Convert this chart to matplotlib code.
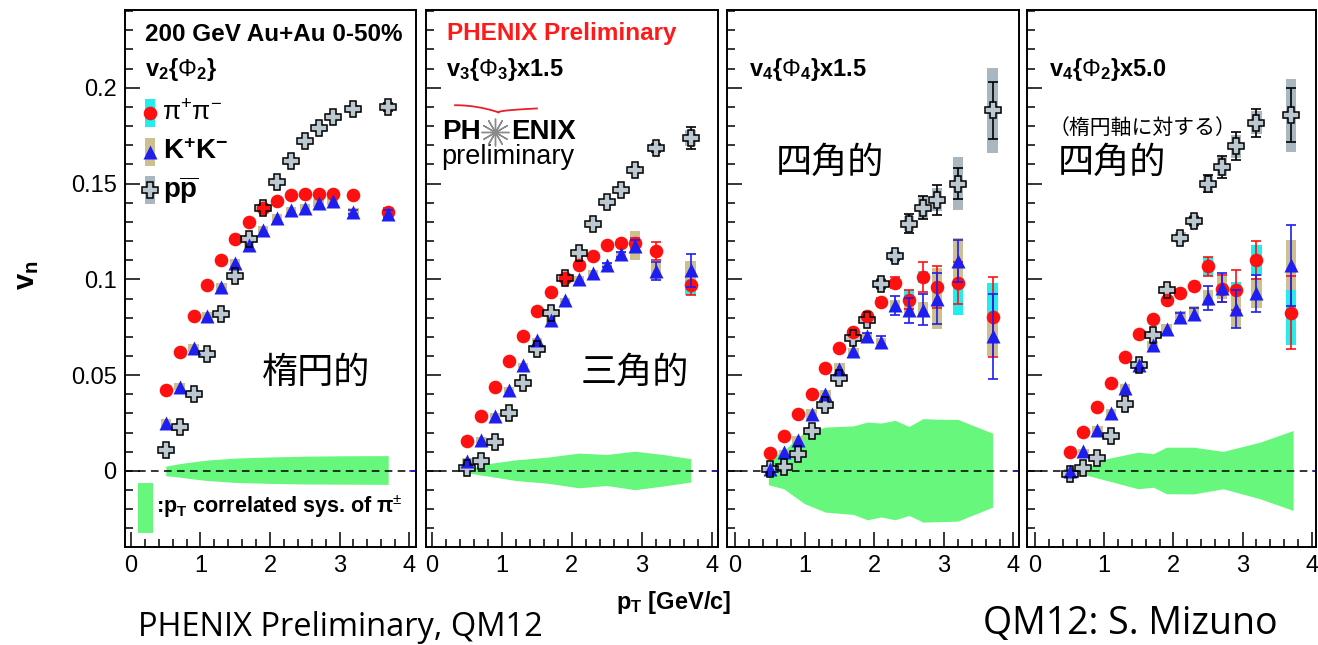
import numpy as np
import matplotlib
matplotlib.use("Agg")
import matplotlib.pyplot as plt
from matplotlib.ticker import MultipleLocator, FuncFormatter

plt.rcParams['font.family'] = ['Liberation Sans', 'DejaVu Sans']
plt.rcParams['mathtext.fontset'] = 'custom'
plt.rcParams['mathtext.rm'] = 'Liberation Sans'
plt.rcParams['mathtext.it'] = 'Liberation Sans:italic'
plt.rcParams['mathtext.bf'] = 'Liberation Sans:bold'

# ---------------- data ----------------
pt = [0.5, 0.7, 0.9, 1.1, 1.3, 1.5, 1.7, 1.9, 2.1, 2.3, 2.5, 2.7, 2.9, 3.2, 3.7]

# v2{Phi2}
v2_pi = [0.042, 0.062, 0.081, 0.097, 0.110, 0.121, 0.130, 0.137, 0.141, 0.144, 0.1445, 0.1445, 0.1445, 0.144, 0.135]
v2_k = [0.025, 0.044, 0.064, 0.081, 0.096, 0.1085, 0.118, 0.126, 0.132, 0.136, 0.1375, 0.140, 0.141, 0.135, 0.134]
v2_p = [0.011, 0.023, 0.040, 0.061, 0.082, 0.102, 0.121, 0.137, 0.151, 0.162, 0.172, 0.179, 0.185, 0.189, 0.190]
v2_pi_err = [0, 0, 0, 0, 0, 0, 0, 0, 0, 0, 0, 0, 0, 0.001, 0.002]
v2_k_err = [0, 0, 0, 0, 0, 0, 0, 0, 0, 0, 0, 0, 0, 0.001, 0.002]
v2_p_err = [0, 0, 0, 0, 0, 0, 0, 0, 0, 0, 0, 0, 0, 0.001, 0.002]
v2_pi_sys = [0.001] * 15
v2_k_sys = [0.002] * 15
v2_p_sys = [0.002] * 15
band2_x = [0.5, 0.7, 0.9, 1.1, 1.5, 2.0, 2.5, 3.0, 3.7]
band2_hi = [0.0025, 0.0038, 0.0048, 0.0057, 0.0067, 0.0073, 0.0077, 0.0079, 0.008]
band2_lo = [-0.0025, -0.0032, -0.0042, -0.005, -0.006, -0.0065, -0.0068, -0.0069, -0.007]

# v3{Phi3} x1.5
v3_pi = [0.0154, 0.0286, 0.0438, 0.0572, 0.0706, 0.0833, 0.0934, 0.1007, 0.1077, 0.1122, 0.118, 0.119, 0.119, 0.1148, 0.0969]
v3_k = [0.0051, 0.016, 0.0286, 0.0424, 0.0551, 0.0681, 0.0786, 0.089, 0.1003, 0.1035, 0.1073, 0.1130, 0.1175, 0.1043, 0.1047]
v3_p = [0.0015, 0.0051, 0.015, 0.030, 0.046, 0.0638, 0.0824, 0.1007, 0.1137, 0.129, 0.1404, 0.1465, 0.1573, 0.1686, 0.1738]
v3_pi_err = [0, 0, 0, 0, 0, 0, 0, 0, 0, 0, 0.001, 0.0015, 0.0026, 0.0045, 0.005]
v3_k_err = [0, 0, 0, 0, 0, 0, 0, 0, 0, 0, 0.001, 0.0015, 0.003, 0.0048, 0.0085]
v3_p_err = [0, 0, 0, 0, 0, 0, 0, 0, 0, 0, 0, 0.001, 0.0015, 0.002, 0.0057]
v3_pi_sys = [0.001] * 13 + [0.002, 0.005]
v3_k_sys = [0.0015] * 12 + [0.0076, 0.004, 0.005]
v3_p_sys = [0.0015] * 13 + [0.002, 0.004]
band3_x = [0.5, 0.8, 1.2, 1.65, 2.1, 2.5, 2.9, 3.3, 3.7]
band3_hi = [0.001, 0.0038, 0.0058, 0.0072, 0.0093, 0.0086, 0.0103, 0.0086, 0.0064]
band3_lo = [-0.001, -0.0027, -0.005, -0.0064, -0.0088, -0.0076, -0.0098, -0.0079, -0.0058]

# v4{Phi4} x1.5
v44_pi = [0.0095, 0.0182, 0.0299, 0.0403, 0.0537, 0.0641, 0.0725, 0.0808, 0.0881, 0.0983, 0.0894, 0.1012, 0.096, 0.0983, 0.0803]
v44_k = [0.001, 0.0098, 0.0163, 0.0295, 0.040, 0.0534, 0.0624, 0.0702, 0.0673, 0.0864, 0.0838, 0.0842, 0.090, 0.1096, 0.0702]
v44_p = [0.001, 0.0023, 0.0086, 0.0211, 0.0346, 0.0487, 0.0695, 0.079, 0.0977, 0.112, 0.129, 0.1374, 0.1416, 0.150, 0.1882]
v44_pi_err = [0, 0, 0, 0, 0, 0, 0, 0, 0.002, 0.003, 0.005, 0.0078, 0.011, 0.011, 0.021]
v44_k_err = [0, 0, 0, 0, 0, 0, 0, 0.002, 0.003, 0.005, 0.0067, 0.008, 0.0135, 0.011, 0.022]
v44_p_err = [0, 0, 0, 0, 0, 0, 0, 0, 0.002, 0.002, 0.0049, 0.0059, 0.0078, 0.008, 0.015]
v44_pi_sys = [0.001, 0.001, 0.001, 0.001, 0.001, 0.001, 0.001, 0.001, 0.002, 0.002, 0.005, 0.003, 0.004, 0.017, 0.018]
v44_k_sys = [0.001, 0.001, 0.002, 0.003, 0.002, 0.003, 0.002, 0.002, 0.002, 0.003, 0.003, 0.004, 0.016, 0.012, 0.01]
v44_p_sys = [0.001, 0.001, 0.001, 0.002, 0.002, 0.002, 0.002, 0.002, 0.003, 0.003, 0.004, 0.006, 0.006, 0.014, 0.022]
band44_x = [0.48, 0.7, 1.0, 1.3, 1.7, 1.9, 2.1, 2.3, 2.5, 2.7, 2.9, 3.2, 3.7]
band44_hi = [0.0064, 0.0107, 0.0203, 0.0229, 0.0235, 0.0255, 0.025, 0.0264, 0.0232, 0.0273, 0.027, 0.0269, 0.0197]
band44_lo = [-0.0072, -0.0093, -0.0171, -0.0215, -0.0227, -0.0255, -0.024, -0.0255, -0.0232, -0.0267, -0.0265, -0.0262, -0.0189]

# v4{Phi2} x5.0
v42_pi = [0.0098, 0.0203, 0.0333, 0.046, 0.0594, 0.0716, 0.0791, 0.0894, 0.093, 0.0963, 0.1068, 0.0951, 0.0946, 0.110, 0.0826]
v42_k = [0.0, 0.0102, 0.0215, 0.0302, 0.0434, 0.0551, 0.0659, 0.0739, 0.0803, 0.0821, 0.0902, 0.0957, 0.0847, 0.0928, 0.1073]
v42_p = [-0.0018, 0.0017, 0.0069, 0.0185, 0.0347, 0.0551, 0.0708, 0.0946, 0.1218, 0.1305, 0.150, 0.1587, 0.1695, 0.1817, 0.1857]
v42_pi_err = [0, 0, 0, 0, 0, 0, 0, 0, 0, 0.002, 0.005, 0.007, 0.0104, 0.010, 0.019]
v42_k_err = [0, 0, 0, 0, 0, 0, 0, 0, 0.002, 0.003, 0.0063, 0.0076, 0.010, 0.0096, 0.021]
v42_p_err = [0, 0, 0, 0, 0, 0, 0, 0, 0, 0.002, 0.0045, 0.0057, 0.0074, 0.0074, 0.014]
v42_pi_sys = [0.001, 0.001, 0.001, 0.001, 0.001, 0.001, 0.001, 0.001, 0.001, 0.002, 0.005, 0.003, 0.004, 0.008, 0.017]
v42_k_sys = [0.001, 0.001, 0.002, 0.002, 0.002, 0.002, 0.002, 0.003, 0.003, 0.004, 0.004, 0.006, 0.010, 0.008, 0.013]
v42_p_sys = [0.001, 0.001, 0.001, 0.001, 0.001, 0.002, 0.002, 0.002, 0.003, 0.003, 0.004, 0.005, 0.006, 0.006, 0.019]
band42_x = [0.5, 0.75, 1.04, 1.49, 1.71, 1.9, 2.29, 2.72, 3.25, 3.73]
band42_hi = [0.0005, 0.0018, 0.0064, 0.0098, 0.009, 0.0124, 0.0124, 0.0102, 0.015, 0.0211]
band42_lo = [-0.0005, -0.0023, -0.005, -0.0093, -0.0085, -0.0119, -0.012, -0.0093, -0.0145, -0.0206]

panel_labels = [r'v$_\mathbf{2}${$\Phi_\mathbf{2}$}', r'v$_\mathbf{3}${$\Phi_\mathbf{3}$}x1.5',
                r'v$_\mathbf{4}${$\Phi_\mathbf{4}$}x1.5', r'v$_\mathbf{4}${$\Phi_\mathbf{2}$}x5.0']
jp_labels = ['楕円的', '三角的', '四角的', '四角的']
yticks = [0, 0.05, 0.1, 0.15, 0.2]

# ---------------- style ----------------
RED = '#ff1010'
BLUE = '#1e1ef0'
PFILL = '#bcc8d0'
GREEN = '#66f77c'
CYAN = '#22eeee'
TAN = '#cbc08e'
PSYS = '#a9b7c1'

fig = plt.figure(figsize=(13.18, 6.45), dpi=100)
W, H = 1318.0, 645.0
lefts = [125, 426, 727, 1027]
widths = [291, 292, 292, 289]
xlims = [(-0.086, 4.10), (-0.086, 4.09), (-0.115, 4.08), (-0.116, 4.06)]
bottom = (H - 547) / H
height = 537 / H

panels = [
    (v2_pi, v2_k, v2_p, v2_pi_err, v2_k_err, v2_p_err, v2_pi_sys, v2_k_sys, v2_p_sys, band2_x, band2_hi, band2_lo),
    (v3_pi, v3_k, v3_p, v3_pi_err, v3_k_err, v3_p_err, v3_pi_sys, v3_k_sys, v3_p_sys, band3_x, band3_hi, band3_lo),
    (v44_pi, v44_k, v44_p, v44_pi_err, v44_k_err, v44_p_err, v44_pi_sys, v44_k_sys, v44_p_sys, band44_x, band44_hi, band44_lo),
    (v42_pi, v42_k, v42_p, v42_pi_err, v42_k_err, v42_p_err, v42_pi_sys, v42_k_sys, v42_p_sys, band42_x, band42_hi, band42_lo),
]

x = np.array(pt)


def errbars(ax, y, e, color, z):
    y = np.array(y)
    e = np.array(e)
    m = e > 0
    if m.any():
        ax.errorbar(x[m], y[m], yerr=e[m], fmt='none', ecolor=color, elinewidth=1.2,
                    capsize=3.5, capthick=1.2, zorder=z)


def sysbox(ax, y, s, color):
    y = np.array(y)
    s = np.array(s)
    ax.bar(x, 2 * s, bottom=y - s, width=0.15, color=color, lw=0, zorder=2)


axes = []
for i, (pi, k, p, pie, ke, pe, pis, ks, ps, bx, bhi, blo) in enumerate(panels):
    ax = fig.add_axes([lefts[i] / W, bottom, widths[i] / W, height])
    axes.append(ax)
    ax.fill_between(bx, blo, bhi, color=GREEN, lw=0, zorder=1)
    ax.axhline(0, color='k', ls=(0, (5, 3.5)), lw=1.1, zorder=1.5)
    ax.plot([4.02, xlims[i][1]], [0, 0], color='#2020d0', lw=1.1, zorder=1.6)
    sysbox(ax, p, ps, PSYS)
    sysbox(ax, pi, pis, CYAN)
    sysbox(ax, k, ks, TAN)
    errbars(ax, p, pe, 'k', 3)
    ax.plot(x, p, ls='none', marker='P', ms=11.5, mfc=PFILL, mec='none', zorder=3)
    errbars(ax, pi, pie, RED, 4)
    ax.plot(x, pi, ls='none', marker='o', ms=9.8, mfc=RED, mec='none', zorder=4)
    errbars(ax, k, ke, BLUE, 5)
    ax.plot(x, k, ls='none', marker='^', ms=10, mfc=BLUE, mec='none', zorder=5)
    ax.plot(x, p, ls='none', marker='P', ms=11.5, mfc='none', mec='k', mew=1.1, zorder=6)

    ax.set_xlim(*xlims[i])
    ax.set_ylim(-0.0397, 0.2406)
    ax.xaxis.set_major_locator(MultipleLocator(1))
    ax.xaxis.set_minor_locator(MultipleLocator(0.2))
    ax.set_yticks(yticks)
    ax.yaxis.set_minor_locator(MultipleLocator(0.01))
    ax.tick_params(which='both', direction='in', top=False, right=False, width=1.1)
    ax.tick_params(which='major', length=11, labelsize=17, pad=6)
    ax.tick_params(which='minor', length=5.5)
    ax.yaxis.set_major_formatter(FuncFormatter(lambda v, _: '%g' % v))
    if i > 0:
        ax.tick_params(labelleft=False)
    for sp in ax.spines.values():
        sp.set_linewidth(1.4)

    # panel label
    ax.text(0.2, 0.2095, panel_labels[i], fontsize=17, fontweight='bold',
            va='center', ha='left', zorder=8)

# ---------------- annotations ----------------
a1, a2, a3, a4 = axes
a1.text(0.2, 0.2277, '200 GeV Au+Au 0-50%', fontsize=17.5, fontweight='bold', va='center', ha='left')
# legend
leg_y = [0.1867, 0.1664, 0.1465]
leg_cols = [CYAN, TAN, PSYS]
leg_txt = ['π$^{+}$π$^{-}$', r'K$^\mathbf{+}$K$^\mathbf{-}$', r'$\mathbf{p}\overline{\mathbf{p}}$']
for yy, c in zip(leg_y, leg_cols):
    a1.bar([0.27], [0.0146], bottom=[yy - 0.0073], width=0.15, color=c, lw=0, zorder=2)
a1.plot([0.27], [leg_y[0]], ls='none', marker='o', ms=9.8, mfc=RED, mec='none', zorder=4)
a1.plot([0.27], [leg_y[1]], ls='none', marker='^', ms=10, mfc=BLUE, mec='none', zorder=4)
a1.plot([0.27], [leg_y[2]], ls='none', marker='P', ms=11.5, mfc=PFILL, mec='k', mew=1.1, zorder=4)
a1.text(0.44, leg_y[0], leg_txt[0], fontsize=19, va='center', ha='left')
a1.text(0.46, leg_y[1], leg_txt[1], fontsize=20, fontweight='bold', va='center', ha='left')
a1.text(0.46, leg_y[2], leg_txt[2], fontsize=20, fontweight='bold', va='center', ha='left')
# sys legend
a1.bar([0.21], [0.0261], bottom=[-0.0324], width=0.22, color=GREEN, lw=0)
a1.text(0.36, -0.0185, r':p$_\mathbf{T}$ correlated sys. of π$^{\pm}$', fontsize=15.5,
        fontweight='bold', va='center', ha='left')

# panel 2 labels and logo
a2.text(0.215, 0.2285, 'PHENIX Preliminary', color='#ff1a1a', fontsize=17.5, fontweight='bold',
        va='center', ha='left')
a2.text(0.14, 0.1768, 'PH', fontsize=20, fontweight='bold', va='center', ha='left')
a2.plot([0.90], [0.1768], ls='none', marker=(12, 2, 0), ms=20, mec='#8a8a8a', mew=1.0, zorder=7)
a2.text(1.13, 0.1768, 'ENIX', fontsize=20, fontweight='bold', va='center', ha='left')
a2.text(0.13, 0.1637, 'preliminary', fontsize=19.5, va='center', ha='left')
t = np.linspace(0, 1, 30)
a2.plot(0.33 + 0.62 * t, 0.1909 - 0.0037 * t ** 2, color='#e8202a', lw=1.3)
a2.plot(0.95 + 0.55 * t, 0.1872 + 0.0020 * np.sqrt(t), color='#e8202a', lw=1.3)

# Japanese labels
jp = ['Noto Sans CJK JP']
a1.text(1.88, 0.051, jp_labels[0], family=jp, fontsize=26, va='center', ha='left')
a2.text(2.12, 0.051, jp_labels[1], family=jp, fontsize=26, va='center', ha='left')
a3.text(0.58, 0.1606, jp_labels[2], family=jp, fontsize=26, va='center', ha='left')
a4.text(0.33, 0.1606, jp_labels[3], family=jp, fontsize=26, va='center', ha='left')
a4.text(0.2, 0.179, '（楕円軸に対する）', family=jp, fontsize=15, va='center', ha='left')

# axis titles and footer
fig.text(27 / W, 1 - 275 / H, r'v$_\mathbf{n}$', rotation=90, fontsize=21, fontweight='bold',
         va='center', ha='center')
fig.text(674 / W, 1 - 602 / H, r'p$_\mathbf{T}$ [GeV/c]', fontsize=17, fontweight='bold',
         va='center', ha='center')
fig.text(138 / W, 1 - 628 / H, 'PHENIX Preliminary, QM12', fontsize=23.5, va='center', ha='left',
         family=['Open Sans', 'DejaVu Sans'])
fig.text(983 / W, 1 - 624 / H, 'QM12: S. Mizuno', fontsize=27, va='center', ha='left',
         family=['Open Sans', 'DejaVu Sans'])

fig.savefig('out.png', dpi=100)
